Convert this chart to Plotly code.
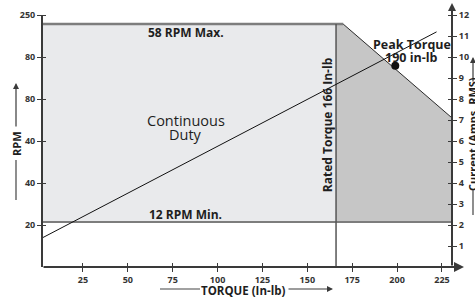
import plotly.graph_objects as go

# ---- data ----
torque_ticks = [25, 50, 75, 100, 125, 150, 175, 200, 225]
rpm_tickvals = [20, 40, 60, 80, 100, 120]
rpm_ticktext = ["20", "40", "40", "80", "80", "250"]
current_ticks = list(range(1, 13))

x_min, x_max = 2.2, 230.6
y_max = 124.8

rated_torque = 166
max_level = 115.7
min_level = 21.4
corner_torque = 170
edge_level = 71

cont_x = [x_min, rated_torque, rated_torque, x_min, x_min]
cont_y = [min_level, min_level, max_level, max_level, min_level]
peak_x = [rated_torque, rated_torque, corner_torque, x_max, x_max, rated_torque]
peak_y = [min_level, max_level, max_level, edge_level, min_level, min_level]

current_torque = [2.2, 222]
current_amps = [1.38, 11.2]
peak_point_torque = [199]
peak_point_rpm = [95.9]

FONT = "Open Sans"
TXT = "#1e1e1e"
AX = "#3a3a3a"

fig = go.Figure()
fig.add_trace(go.Scatter(x=cont_x, y=cont_y, fill="toself", fillcolor="#e9eaec",
                         mode="lines", line=dict(width=0), hoverinfo="skip"))
fig.add_trace(go.Scatter(x=peak_x, y=peak_y, fill="toself", fillcolor="#c6c6c6",
                         mode="lines", line=dict(width=0), hoverinfo="skip"))
fig.add_trace(go.Scatter(x=[x_min, corner_torque], y=[max_level, max_level], mode="lines",
                         line=dict(color="#7d7d7d", width=2.5)))
fig.add_trace(go.Scatter(x=[x_min, x_max], y=[min_level, min_level], mode="lines",
                         line=dict(color="#7d7d7d", width=2)))
fig.add_trace(go.Scatter(x=[corner_torque, x_max], y=[max_level, edge_level], mode="lines",
                         line=dict(color="#2a2a2a", width=1)))
fig.add_trace(go.Scatter(x=[rated_torque, rated_torque], y=[0, max_level], mode="lines",
                         line=dict(color="#555555", width=1.5)))
fig.add_trace(go.Scatter(x=current_torque, y=current_amps, yaxis="y2", mode="lines",
                         line=dict(color="#111111", width=1)))
fig.add_trace(go.Scatter(x=peak_point_torque, y=peak_point_rpm, mode="markers",
                         marker=dict(color="#111111", size=8)))
# dummy traces to activate overlay axes (inside tick halves)
fig.add_trace(go.Scatter(x=[None], y=[None], xaxis="x2", yaxis="y3", showlegend=False))
fig.add_trace(go.Scatter(x=[None], y=[None], xaxis="x2", yaxis="y4", showlegend=False))

tickfont = dict(family=FONT, size=9, color="#333333", weight="bold")
common = dict(showgrid=False, zeroline=False, showline=False, ticklen=4,
              tickcolor=AX, tickwidth=1.2, fixedrange=True)

fig.update_layout(
    width=475, height=300,
    margin=dict(l=42, r=23, t=5, b=33),
    paper_bgcolor="white", plot_bgcolor="white",
    showlegend=False,
    xaxis=dict(range=[x_min, x_max], tickvals=torque_ticks, ticks="outside",
               tickfont=tickfont, **common),
    xaxis2=dict(range=[x_min, x_max], overlaying="x", tickvals=torque_ticks, ticks="inside",
                showticklabels=False, anchor="y", **common),
    yaxis=dict(range=[0, y_max], tickvals=rpm_tickvals, ticktext=rpm_ticktext,
               ticks="outside", tickfont=tickfont, **common),
    yaxis2=dict(range=[0, y_max / 10], overlaying="y", side="right", anchor="x",
                tickvals=current_ticks, ticks="outside", tickfont=tickfont, **common),
    yaxis3=dict(range=[0, y_max], overlaying="y", side="left", anchor="x",
                tickvals=rpm_tickvals, ticks="inside", showticklabels=False, **common),
    yaxis4=dict(range=[0, y_max / 10], overlaying="y", side="right", anchor="x",
                tickvals=current_ticks, ticks="inside", showticklabels=False, **common),
)

def px_x(p):
    return (p - 42) / 410.0

def px_y(p):
    return (267 - p) / 262.0

shapes = [
    # left axis
    dict(type="line", xref="paper", yref="paper", x0=0, x1=0, y0=0, y1=px_y(15),
         line=dict(color=AX, width=2)),
    # RPM lower title line
    dict(type="line", xref="paper", yref="paper", x0=px_x(16), x1=px_x(16),
         y0=px_y(160), y1=px_y(200), line=dict(color="#444", width=1.2)),
    # Torque left title line
    dict(type="line", xref="paper", yref="paper", x0=px_x(160), x1=px_x(200),
         y0=px_y(289), y1=px_y(289), line=dict(color="#444", width=1.2)),
    # Current lower title line
    dict(type="line", xref="paper", yref="paper", x0=px_x(473), x1=px_x(473),
         y0=px_y(190), y1=px_y(215), line=dict(color="#444", width=1.2)),
]
fig.update_layout(shapes=shapes)

ann = []
def arrow(hx, hy, ax, ay, w=1.5, size=1):
    ann.append(dict(xref="paper", yref="paper", x=px_x(hx), y=px_y(hy), ax=ax, ay=ay,
                    text="", showarrow=True, arrowhead=2, arrowsize=size, arrowwidth=w,
                    arrowcolor=AX))

arrow(464, 267, -422, 0, w=2, size=1)      # x axis line
arrow(452, 3, 0, 264, w=2, size=0.8)       # right axis line
arrow(16, 83, 0, 45, w=1.2, size=1)        # RPM title arrow
arrow(333, 289, -46, 0, w=1.2, size=1)     # torque title arrow
arrow(473, 57, 0, 26, w=1.2, size=1)       # current title arrow

def label(text, x, y, size, bold=True, angle=0, xref="x", yref="y"):
    ann.append(dict(xref=xref, yref=yref, x=x, y=y, text=text, showarrow=False,
                    textangle=angle, xanchor="center", yanchor="middle",
                    font=dict(family=FONT, size=size, color=TXT,
                              weight="bold" if bold else "normal")))

label("58 RPM Max.", 82.4, 111.9, 12)
label("12 RPM Min.", 82.4, 24.8, 12)
label("Continuous", 82.4, 70.0, 14.5, bold=False)
label("Duty", 82.4, 62.9, 14.5, bold=False)
label("Rated Torque 166 In-lb", 161, 67.6, 12, angle=-90)
label("Peak Torque", 208.3, 106.2, 12.5)
label("190 in-lb", 208.3, 100.0, 12.5)
label("RPM", px_x(16), px_y(144), 11, angle=-90, xref="paper", yref="paper")
label("TORQUE (In-lb)", px_x(243), px_y(290), 11.5, xref="paper", yref="paper")
label("Current (Amps, RMS)", px_x(472), px_y(134), 11, angle=-90, xref="paper", yref="paper")

fig.update_layout(annotations=ann)

fig.write_html("out.html", config={"displayModeBar": False},
               post_script="document.body.style.margin='0';document.body.style.overflow='hidden';")
